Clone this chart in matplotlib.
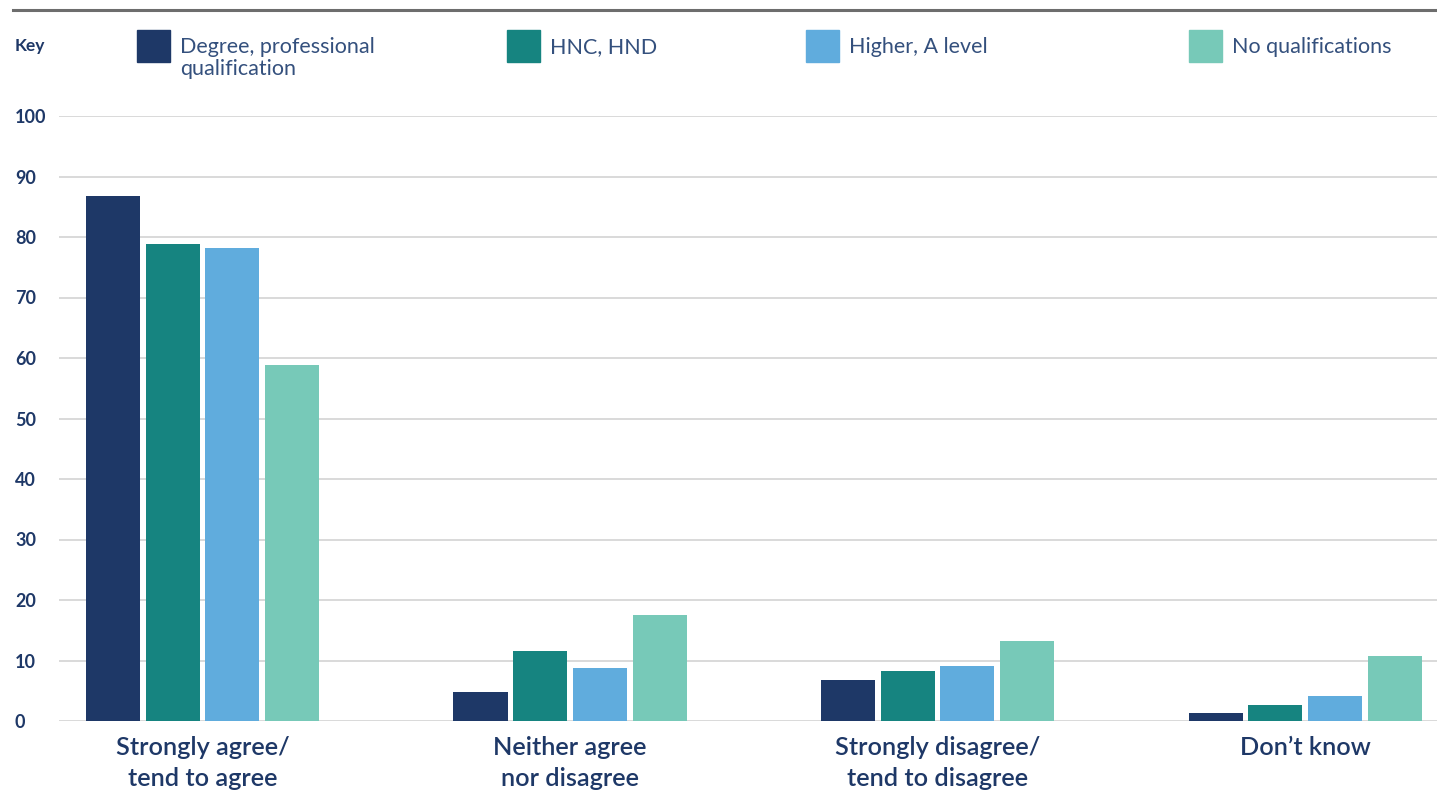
import matplotlib
matplotlib.use("Agg")
import matplotlib.pyplot as plt
from matplotlib.patches import Rectangle
from matplotlib.lines import Line2D
import numpy as np

# Survey responses by highest qualification (%)
categories = ["Strongly agree/\ntend to agree", "Neither agree\nnor disagree",
              "Strongly disagree/\ntend to disagree", "Don’t know"]
series_names = ["Degree, professional\nqualification", "HNC, HND",
                "Higher, A level", "No qualifications"]
degree = [86.7, 4.8, 6.7, 1.4]
hnc_hnd = [78.9, 11.5, 8.3, 2.7]
higher_a_level = [78.2, 8.8, 9.1, 4.2]
no_qualifications = [58.8, 17.6, 13.2, 10.8]
y_ticks = [0, 10, 20, 30, 40, 50, 60, 70, 80, 90, 100]

series_values = [degree, hnc_hnd, higher_a_level, no_qualifications]
colors = ["#1e3867", "#168480", "#60acdd", "#77c9b8"]
text_color = "#1e3867"
legend_text_color = "#34507d"

W, H = 1437, 791
fig = plt.figure(figsize=(W / 100, H / 100), dpi=100)

# Plot area in pixel terms
left_px, right_px = 59, 1437
top_px, bottom_px = 116, 721
ax = fig.add_axes([left_px / W, (H - bottom_px) / H,
                   (right_px - left_px) / W, (bottom_px - top_px) / H])

x = np.arange(len(categories))
bar_w = 0.147
pitch = 0.1624
offsets = (np.arange(len(series_values)) - 1.5) * pitch
for vals, off, col in zip(series_values, offsets, colors):
    ax.bar(x + off, vals, width=bar_w, color=col, zorder=3)

ax.set_ylim(0, 100)
ax.set_xlim(-0.3905, 3.359)
for s in ax.spines.values():
    s.set_visible(False)
ax.set_yticks(y_ticks)
ax.yaxis.grid(True, color="#d9d9d9", linewidth=1.4, zorder=0)
ax.set_axisbelow(True)
ax.tick_params(axis="y", length=0, pad=31.7, labelsize=13,
               labelcolor=text_color)
for lab in ax.get_yticklabels():
    lab.set_ha("left")
    lab.set_family("Lato")
    lab.set_weight("bold")

ax.set_xticks(x)
ax.set_xticklabels(categories, fontsize=18.2, color=text_color,
                   family="Lato", weight="semibold", linespacing=1.39)
ax.tick_params(axis="x", length=0, pad=11)

# Top rule
fig.add_artist(Line2D([13 / W, 1.0], [(H - 10) / H, (H - 10) / H],
                      color="#6d6d6d", linewidth=2.2))

# Key
fig.text(15 / W, (H - 46) / H, "Key", fontsize=12.5, color=text_color,
         family="Lato", weight="bold", va="center", ha="left")
sq_x = [137, 507, 806, 1189]
for sx, col, name in zip(sq_x, colors, series_names):
    fig.add_artist(Rectangle((sx / W, (H - 62) / H), 33 / W, 32 / H,
                             color=col, transform=fig.transFigure))
    fig.text((sx + 43) / W, (H - 37) / H, name, fontsize=15.5,
             color=legend_text_color, family="Lato", weight="normal",
             va="top", ha="left", linespacing=1.1)

fig.savefig("out.png", dpi=100)
